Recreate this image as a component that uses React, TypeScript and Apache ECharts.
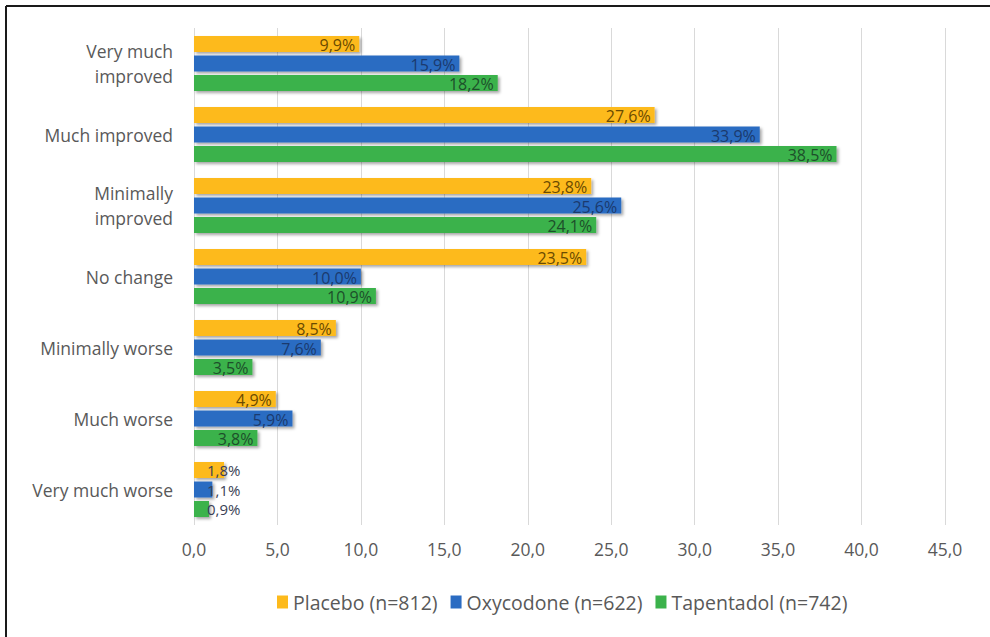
import React, { useEffect, useRef } from "react";
import * as echarts from "echarts";

const categories = [
  "Very much\nimproved",
  "Much improved",
  "Minimally\nimproved",
  "No change",
  "Minimally worse",
  "Much worse",
  "Very much worse",
];
const seriesNames = ["Placebo (n=812)", "Oxycodone (n=622)", "Tapentadol (n=742)"];
const placebo = [9.9, 27.6, 23.8, 23.5, 8.5, 4.9, 1.8];
const oxycodone = [15.9, 33.9, 25.6, 10.0, 7.6, 5.9, 1.1];
const tapentadol = [18.2, 38.5, 24.1, 10.9, 3.5, 3.8, 0.9];
const xTicks = { min: 0, max: 45, interval: 5 };

const barColors = ["#FDBA1C", "#2B6CC2", "#3BB24B"];
const labelColors = ["#6B4A00", "#1B3A6E", "#1D4F2A"];
const FONT = "'Open Sans', 'Noto Sans', sans-serif";

const fmt = (v: number) => v.toFixed(1).replace(".", ",");

export default function App() {
  const ref = useRef<HTMLDivElement>(null);
  useEffect(() => {
    if (!ref.current) return;
    const chart = echarts.init(ref.current, undefined, { renderer: "svg" });
    const values = [placebo, oxycodone, tapentadol];
    const series = values.map((vals, i) => ({
      name: seriesNames[i],
      type: "bar",
      barWidth: 16,
      barGap: "22%",
      itemStyle: {
        color: barColors[i],
        shadowColor: "rgba(0,0,0,0.35)",
        shadowBlur: 3,
        shadowOffsetX: 2,
        shadowOffsetY: 2,
      },
      label: {
        show: true,
        position: "insideRight",
        distance: 4,
        offset: [0, 1],
        color: labelColors[i],
        fontFamily: FONT,
        fontSize: 16,
        lineHeight: 16,
        formatter: (p: any) => fmt(p.value) + "%",
      },
      data: vals.map((v) =>
        v < 3
          ? {
              value: v,
              label: {
                show: true,
                position: "insideLeft",
                distance: 13,
                offset: [0, 0],
                color: "#3A3F55",
                fontFamily: FONT,
                fontSize: 15,
                lineHeight: 15,
              },
            }
          : { value: v }
      ),
    }));
    chart.setOption({
      animation: false,
      backgroundColor: "#ffffff",
      color: barColors,
      grid: { left: 194, right: 45, top: 28, bottom: 112, containLabel: false },
      xAxis: {
        type: "value",
        min: xTicks.min,
        max: xTicks.max,
        interval: xTicks.interval,
        axisLine: { show: false },
        axisTick: { show: false },
        splitLine: { show: true, lineStyle: { color: "#D9D9D9", width: 1 } },
        axisLabel: {
          color: "#595959",
          fontFamily: FONT,
          fontSize: 17.5,
          margin: 15,
          formatter: (v: number) => fmt(v),
        },
      },
      yAxis: {
        type: "category",
        data: categories,
        inverse: true,
        axisLine: { show: false },
        axisTick: { show: false },
        axisLabel: {
          color: "#595959",
          fontFamily: FONT,
          fontSize: 17.5,
          lineHeight: 25,
          margin: 21,
          align: "right",
        },
      },
      legend: {
        bottom: 20,
        left: 272,
        itemWidth: 11,
        itemHeight: 13,
        itemGap: 13,
        icon: "rect",
        textStyle: { color: "#595959", fontFamily: FONT, fontSize: 19.5, padding: [0, 0, 0, 0] },
        data: seriesNames,
      },
      graphic: [
        { type: "line", shape: { x1: 6, y1: 6, x2: 990, y2: 6 }, style: { stroke: "#1a1a1a", lineWidth: 2 } },
        { type: "line", shape: { x1: 6, y1: 6, x2: 6, y2: 637 }, style: { stroke: "#1a1a1a", lineWidth: 2 } },
      ],
      series,
    });
    return () => chart.dispose();
  }, []);
  return (
    <div
      ref={ref}
      style={{ position: "fixed", left: 0, top: 0, width: 990, height: 637 }}
    />
  );
}
